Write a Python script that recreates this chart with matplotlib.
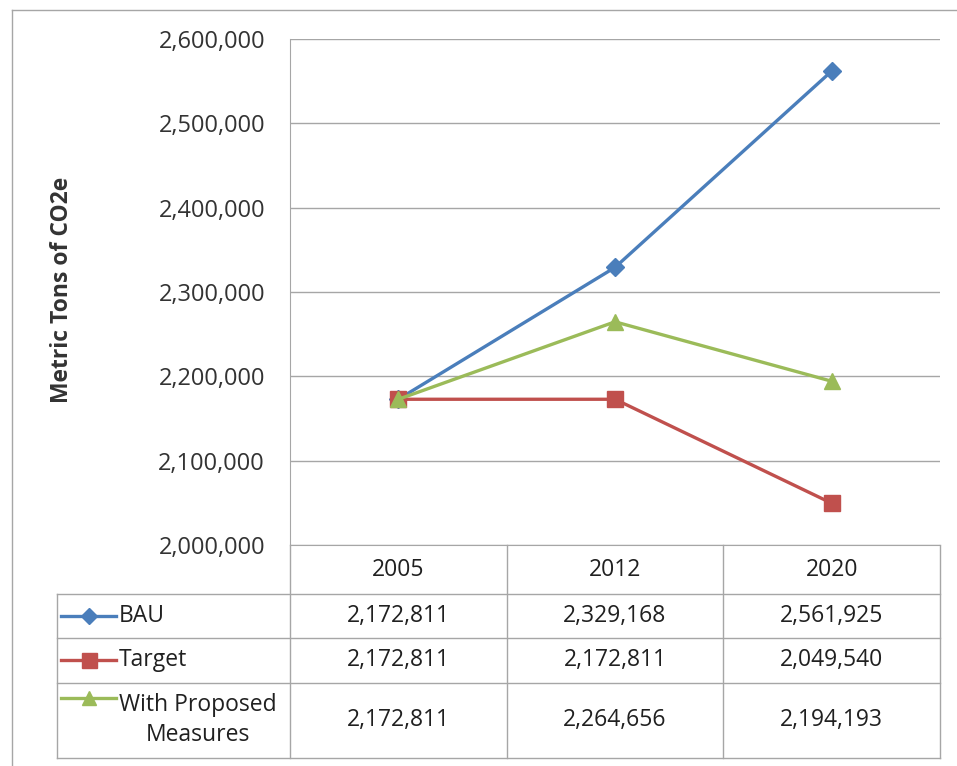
import matplotlib
matplotlib.use("Agg")
import matplotlib.pyplot as plt
import matplotlib.transforms as mtransforms
from matplotlib.lines import Line2D
from matplotlib.ticker import FuncFormatter

plt.rcParams['font.family'] = ['Open Sans', 'DejaVu Sans']

# ---- data ----
years = ["2005", "2012", "2020"]
series_names = ["BAU", "Target", "With Proposed\nMeasures"]
bau = [2172811, 2329168, 2561925]
target = [2172811, 2172811, 2049540]
proposed = [2172811, 2264656, 2194193]
y_ticks = [2000000, 2100000, 2200000, 2300000, 2400000, 2500000, 2600000]
y_label = "Metric Tons of CO2e"

series = [bau, target, proposed]
colors = ["#4A7EBB", "#C0504D", "#9BBB59"]
markers = ["D", "s", "^"]
msizes = [9.5, 12, 11]

W, H = 957, 766
def fx(p): return p / W
def fy(p): return 1 - p / H

fig = plt.figure(figsize=(W / 100, H / 100), dpi=100)
fig.patch.set_facecolor("white")

grid_c = "#A6A6A6"
text_c = "#333333"

ax = fig.add_axes([fx(290), fy(545), fx(940) - fx(290), fy(39) - fy(545)])
ax.set_facecolor("none")
ax.set_xlim(-0.5, 2.5)
ax.set_ylim(y_ticks[0], y_ticks[-1])
ax.set_yticks(y_ticks)
ax.yaxis.set_major_formatter(FuncFormatter(lambda v, p: f"{int(v):,}"))
ax.set_xticks([])
ax.tick_params(axis="y", length=0, pad=18, labelsize=17, labelcolor=text_c)
for s in ["top", "right"]:
    ax.spines[s].set_visible(False)
ax.spines["left"].set_color(grid_c)
ax.spines["bottom"].set_color(grid_c)
ax.grid(axis="y", color=grid_c, lw=1)
ax.set_axisbelow(True)

xs = list(range(len(years)))
for vals, c, m, ms in zip(series, colors, markers, msizes):
    ax.plot(xs, vals, color=c, lw=2.4, marker=m, markersize=ms,
            markerfacecolor=c, markeredgecolor=c, clip_on=False, zorder=3)

fig.text(fx(62), fy(290), y_label, rotation=90, ha="center", va="center",
         fontsize=16.5, fontweight="bold", color=text_c)

# ---- data table ----
blend = mtransforms.blended_transform_factory(ax.transData, fig.transFigure)
row_lines = [594, 638, 683, 758]
for yy in row_lines:
    fig.add_artist(Line2D([fx(57), fx(940)], [fy(yy)] * 2, color=grid_c, lw=1,
                          transform=fig.transFigure))
fig.add_artist(Line2D([fx(57), fx(57)], [fy(594), fy(758)], color=grid_c, lw=1,
                      transform=fig.transFigure))
for xv in [-0.5, 0.5, 1.5, 2.5]:
    fig.add_artist(Line2D([xv, xv], [fy(545), fy(758)], color=grid_c, lw=1,
                          transform=blend))

for i, yr in enumerate(years):
    fig.text(i, fy(570), yr, transform=blend, ha="center", va="center",
             fontsize=16.5, color="#202020")

row_centers = [616, 660, 720]
for r, (name, vals, c, m, ms) in enumerate(zip(series_names, series, colors, markers, msizes)):
    yc = fy(row_centers[r]) if r < 2 else fy(698)
    fig.add_artist(Line2D([fx(61), fx(88.5), fx(116)], [yc] * 3, color=c, lw=2.4,
                          marker=m, markersize=ms * 0.9, markevery=[1],
                          markerfacecolor=c, markeredgecolor=c,
                          transform=fig.transFigure))
    fig.text(fx(119), fy(row_centers[r]), name, ha="left", va="center",
             multialignment="center", fontsize=16.5, color="#202020",
             linespacing=1.3)
    for i, v in enumerate(vals):
        fig.text(i, fy(row_centers[r]), f"{v:,}", transform=blend, ha="center",
                 va="center", fontsize=16.5, color="#202020")

# outer frame
fig.add_artist(Line2D([fx(12), fx(957)], [fy(10)] * 2, color=grid_c, lw=1,
                      transform=fig.transFigure))
fig.add_artist(Line2D([fx(12), fx(12)], [fy(10), fy(766)], color=grid_c, lw=1,
                      transform=fig.transFigure))

fig.savefig("out.png", dpi=100)
